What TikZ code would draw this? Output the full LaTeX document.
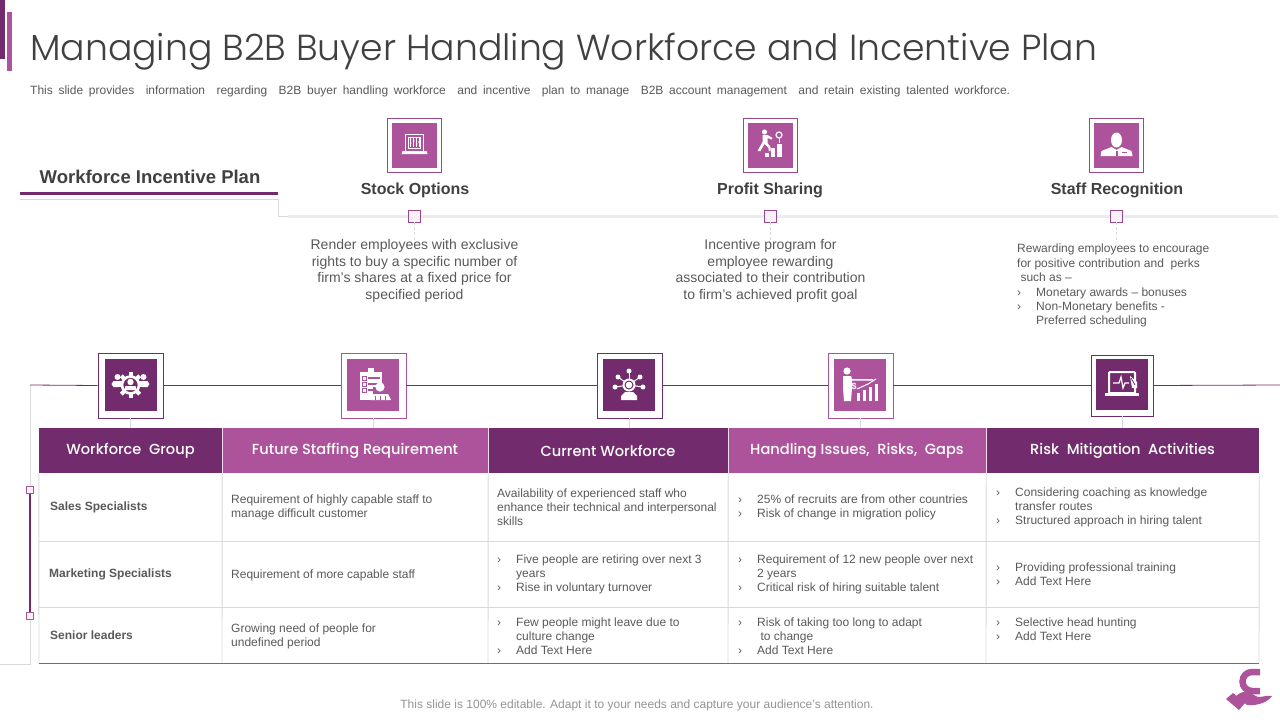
\documentclass[tikz,border=0pt]{standalone}
\usepackage{fontspec}
\setmainfont{Liberation Sans}
\newfontfamily\gothic{Poppins}[UprightFont=* Medium]
\newfontfamily\gothiclight{Poppins}[UprightFont=* Light]
\definecolor{darkp}{HTML}{722B6C}
\definecolor{lightp}{HTML}{AD539B}
\definecolor{txt}{HTML}{595959}
\definecolor{txtd}{HTML}{404040}
\definecolor{gridc}{HTML}{D9D9D9}
\definecolor{pinkf}{HTML}{F9F1F8}
\newcommand{\fs}[2]{\fontsize{#1}{#2}\selectfont}
\newcommand{\bl}[1]{\makebox[19pt][l]{›}#1}
\newcommand{\cn}[1]{\hspace*{19pt}#1}
\newcommand{\icStock}{
 \draw[white,line width=.7] (-9,-11) rectangle (9,6);
 \draw[white,line width=.6] (-6,-8) rectangle (6,3);
 \foreach \x/\y in {-4/-2,-1/-4,2/-1,4.5/-3}{\draw[white,line width=.7] (\x,-7) -- (\x,2); \fill[white] (\x,\y) circle (1);}
 \fill[white] (-12,6) -- (12,6) -- (13,9) -- (-13,9) -- cycle;
}
\newcommand{\icProfit}{
 \fill[white] (-6,-13) circle (2.6);
 \fill[white] (-8,-10) -- (-3,-10) -- (2,-7) -- (1,-5.5) -- (-3,-7) -- (-3,-2) -- (0,2) -- (0,6) -- (-2,6) -- (-2,3) -- (-6,-1) -- (-10,6) -- (-13,6) -- (-8,-3) -- cycle;
 \fill[white] (-6,8) rectangle (-2,12);
 \fill[white] (0,3) rectangle (4,12);
 \fill[white] (6,-1) rectangle (11,12);
 \draw[white,line width=1.2] (8.5,-10) circle (3);
 \draw[white,line width=1] (8.5,-7) -- (8.5,-2);
}
\newcommand{\icStaff}{
 \fill[white] (0,-5) ellipse (5.5 and 7.5);
 \fill[white] (-16,11) -- (-15,6) -- (-5,2) -- (0,5) -- (5,2) -- (15,6) -- (16,11) -- cycle;
 \fill[lightp] (-1,6) rectangle (1,11);
 \fill[lightp] (5,7) rectangle (10,8.2);
}
\newcommand{\icWork}{
 \draw[white,line width=2.6] (0,0) circle (8.5);
 \foreach \a in {0,45,...,315}{\fill[white,rotate=\a] (-2,-13) rectangle (2,-9);}
 \fill[white] (0,-3) circle (3.2);
 \fill[white] (-6,5) -- (-5,1) -- (5,1) -- (6,5) -- cycle;
 \foreach \s in {-1,1}{
  \fill[white] (\s*13,-8) circle (3);
  \fill[white] (\s*8,-1) -- (\s*9,-4) -- (\s*17,-4) -- (\s*19,-1) -- (\s*17,2) -- (\s*12,2) -- cycle;
 }
}
\newcommand{\icFuture}{
 \fill[white] (-13,-13) rectangle (9,15);
 \fill[white] (-5,-17) rectangle (1,-12);
 \foreach \y in {-7,-1,5}{
  \draw[lightp,line width=.8] (-11,\y-2) rectangle (-7,\y+2);
  \fill[lightp] (-5,\y-1) rectangle (7,\y+1);
 }
 \fill[lightp] (0,2) rectangle (20,20);
 \fill[white] (7,2) circle (4.6);
 \fill[white] (-3,15) -- (-1,9) -- (15,9) -- (18,15) -- cycle;
 \fill[lightp] (2,11) rectangle (3,15);
 \fill[lightp] (7,11) rectangle (8,15);
 \fill[lightp] (12,11) rectangle (13,15);
}
\newcommand{\icCurrent}{
 \foreach \x/\y in {0/-14,-11/-8,11/-8,-14/2,14/2}{
  \draw[white,line width=1] (0,0) -- (\x,\y);
  \fill[white] (\x,\y) circle (2.5);
 }
 \fill[white] (0,0) circle (6.5);
 \fill[lightp!0!darkp] (0,0) circle (4.5);
 \fill[white] (0,0) circle (3.3);
 \fill[white] (-8,15) -- (-8,11) -- (-4,7) -- (4,7) -- (8,11) -- (8,15) -- cycle;
}
\newcommand{\icHandling}{
 \fill[white] (-13,-14) circle (3.6);
 \fill[white] (-17,-9) -- (-9,-9) -- (-8,-6) -- (13,-6) -- (13,-4.5) -- (-8,-4.5) -- (-8,3) -- (-9,16) -- (-16,16) -- (-17,3) -- cycle;
 \fill[white] (-3,8) rectangle (0,16);
 \fill[white] (3,5) rectangle (6,16);
 \fill[white] (9,2) rectangle (12,16);
 \fill[white] (15,-1) rectangle (18,16);
 \draw[white,line width=1] (-3,4) -- (8,-1) -- (16,-6);
 \node[text=white,font=\fs{9}{9}\bfseries,inner sep=0] at (-6,1) {\$};
}
\newcommand{\icRisk}{
 \draw[white,line width=2,rounded corners=1] (-13,-13) rectangle (13,8);
 \fill[white] (-17,8) -- (17,8) -- (17,11) -- (-17,11) -- cycle;
 \draw[white,line width=1.2] (-9,-2) -- (-3,-2) -- (-1,-8) -- (1,3) -- (3,-2) -- (7,-2);
 \fill[white] (8,-9) -- (15,-3) -- (15,3) -- (10,3) -- cycle;
 \draw[darkp,line width=.8] (9,-7) -- (13,0);
}
\tikzset{
 x=1pt,y=-1pt,
 bigbox/.style={draw=darkp,fill=white,line width=.8pt,minimum size=65pt,inner sep=0},
 bigboxl/.style={draw=lightp,fill=white,line width=.8pt,minimum size=65pt,inner sep=0},
 smallbox/.style={draw=lightp!70!darkp,fill=white,line width=.8pt,minimum size=54pt,inner sep=0},
 innerd/.style={fill=darkp,minimum size=52pt,inner sep=0},
 innerl/.style={fill=lightp,minimum size=52pt,inner sep=0},
 inners/.style={fill=lightp,minimum size=45pt,inner sep=0},
 marker/.style={draw=lightp!70!darkp,fill=pinkf,line width=.8pt,minimum size=12pt,inner sep=0},
 tinymark/.style={draw=lightp,fill=pinkf,line width=.7pt,minimum size=7pt,inner sep=0},
 hdr/.style={minimum height=45pt,inner sep=0,text=white,font=\gothic\fs{14.6}{16}},
 topttl/.style={font=\fs{16}{18}\bfseries,text=txtd,inner sep=0},
 topbody/.style={font=\fs{14}{16.7},text=txt,align=center,inner sep=0},
 cell/.style={font=\fs{12}{14},text=txt,align=left,inner sep=0,anchor=west},
 rowh/.style={font=\fs{12}{14}\bfseries,text=txt,inner sep=0,anchor=west},
 gridl/.style={draw=gridc,line width=.9pt},
 drop/.style={draw=gridc,line width=.7pt},
 dashc/.style={draw=gridc,line width=.7pt,dash pattern=on 3pt off 2pt},
}
\begin{document}
\begin{tikzpicture}[x=1pt,y=-1pt]
\useasboundingbox (0,0) rectangle (1280,720);
% corner bars
\fill[darkp] (0,0) rectangle (5,59);
\fill[lightp] (7,12) rectangle (12,71);
% title
\node[anchor=west,inner sep=0,font=\gothiclight\fs{36.2}{40},text=txtd] (title) at (30,52) {Managing B2B Buyer Handling Workforce and Incentive Plan};
\node[anchor=west,inner sep=0,font=\fs{12}{14},text=txt] (subtitle) at (30,91) {\makebox[980pt][s]{This slide provides\ \ information\ \ regarding\ \ B2B buyer handling workforce\ \ and incentive\ \ plan to manage\ \ B2B account management\ \ and retain existing talented workforce.}};
% workforce incentive plan
\node[inner sep=0,font=\fs{18.5}{20}\bfseries,text=txtd] (wip) at (150,177) {Workforce Incentive Plan};
\coordinate (wl) at (20,193); \coordinate (wr) at (278,193);
\coordinate (gl) at (20,199); \coordinate (gr) at (278,199);
\coordinate (gb) at (278,216); \coordinate (ge) at (1278,216); \coordinate (gs) at (288,216);
\draw[gridc,line width=.8pt] (gl) -- (gr) -- (gb) -- (gs);
\draw[draw=gridc!50,line width=3pt] (gs) -- (ge);
\draw[darkp,line width=3pt] (wl) -- (wr);
% top columns
\foreach \n/\x/\ic in {a/414.5/\icStock,b/770.5/\icProfit,c/1116.5/\icStaff}{
 \node[smallbox] (top\n) at (\x,145) {};
 \node[inners] (topi\n) at (\x,145) {};
 \begin{scope}[shift={(\x,145)}] \ic \end{scope}
 \node[marker] (mk\n) at (\x,216) {};
 \coordinate (dd\n) at (\x,243);
 \draw[dashc] (mk\n) -- (dd\n);
}
\node[topttl] (ttla) at (415,190) {Stock Options};
\node[topttl] (ttlb) at (770,190) {Profit Sharing};
\node[topttl] (ttlc) at (1117,190) {Staff Recognition};
\node[topbody] (bodya) at (414.5,271) {Render employees with exclusive\\rights to buy a specific number of\\firm’s shares at a fixed price for\\specified period};
\node[topbody] (bodyb) at (770.5,271) {Incentive program for\\employee rewarding\\associated to their contribution\\to firm’s achieved profit goal};
\node[anchor=north west,align=left,inner sep=0,font=\fs{12}{14.4},text=txt] (bodyc) at (1017,244) {Rewarding employees to encourage\\for positive contribution and\ \ perks\\\ such as –\\\bl{Monetary awards – bonuses}\\\bl{Non-Monetary benefits -}\\\cn{Preferred scheduling}};
% left rail
\coordinate (tl0) at (30,385); \coordinate (tl9) at (1280,385);
\coordinate (rb) at (30,664); \coordinate (re) at (0,664);
\draw[gridc,line width=.7pt] (tl0) -- (rb) -- (re);
\node[tinymark] (ra) at (30,490) {};
\node[tinymark] (rz) at (30,616) {};
\draw[darkp,line width=1.8pt] (ra) -- (rz);
% icon boxes
\node[bigbox] (b1) at (130.5,385.5) {}; \node[innerd] at (130.5,385) {};
\node[bigboxl] (b2) at (373.5,385.5) {}; \node[innerl] at (373,385) {};
\node[bigbox] (b3) at (629.5,385.5) {}; \node[innerd] at (629,385) {};
\node[bigboxl] (b4) at (860.5,385.5) {}; \node[innerl] at (860,385) {};
\node[bigbox,minimum width=62pt,minimum height=61pt] (b5) at (1122,385.5) {}; \node[innerd,minimum height=51pt] at (1122,384.5) {};
\begin{scope}[shift={(130.5,385)}] \icWork \end{scope}
\begin{scope}[shift={(373,385)}] \icFuture \end{scope}
\begin{scope}[shift={(629,385)}] \icCurrent \end{scope}
\begin{scope}[shift={(860,385)}] \icHandling \end{scope}
\begin{scope}[shift={(1122,385)}] \icRisk \end{scope}
\draw[darkp,line width=.8pt] (tl0) -- (b1.west);
\draw[darkp,line width=.8pt] (b1.east) -- (b2.west);
\draw[darkp,line width=.8pt] (b2.east) -- (b3.west);
\draw[darkp,line width=.8pt] (b3.east) -- (b4.west);
\draw[darkp,line width=.8pt] (b4.east) -- (b5.west);
\draw[darkp,line width=.8pt] (b5.east) -- (tl9);
% table header
\node[hdr,fill=darkp,minimum width=183pt] (h1) at (130.5,450.5) {Workforce\ \ Group};
\node[hdr,fill=lightp,minimum width=266pt] (h2) at (355,450.5) {Future Staffing Requirement};
\node[hdr,fill=darkp,minimum width=240pt] (h3) at (608,450.5) {Current Workforce};
\node[hdr,fill=lightp,minimum width=258pt] (h4) at (857,450.5) {Handling Issues,\ \ Risks,\ \ Gaps};
\node[hdr,fill=darkp,minimum width=273pt] (h5) at (1122.5,450.5) {Risk\ \ Mitigation\ \ Activities};
\foreach \a in {h1,h2,h3,h4}{\draw[white!80!lightp,line width=.8pt] (\a.north east) -- (\a.south east);}
\foreach \n/\x in {1/130.5,2/373.5,3/629.5,4/860.5,5/1122}{\coordinate (hh\n) at (\x,428); \draw[drop] (b\n) -- (hh\n);}
% grid
\foreach \y in {541,607}{\coordinate (la) at (39,\y); \coordinate (lb) at (1259,\y); \draw[gridl] (la) -- (lb);}
\foreach \x/\a in {39/h1.south west,222/h1.south east,488/h2.south east,728/h3.south east,986/h4.south east,1259/h5.south east}{\coordinate (vb) at (\x,663); \draw[gridl] (\a) -- (vb);}
\coordinate (bl) at (39,663.5); \coordinate (br) at (1259,663.5);
\draw[draw=lightp!85!darkp,line width=1.5pt] (bl) -- (br);
% rows
\node[rowh] (r1) at (50,507) {Sales Specialists};
\node[rowh] (r2) at (49,574) {Marketing Specialists};
\node[rowh] (r3) at (50,635) {Senior leaders};
\node[cell] (c12) at (231,507) {Requirement of highly capable staff to\\manage difficult customer};
\node[cell] (c22) at (231,575) {Requirement of more capable staff};
\node[cell] (c32) at (231,636) {Growing need of people for\\undefined period};
\node[cell] (c13) at (497,507) {Availability of experienced staff who\\enhance their technical and interpersonal\\skills};
\node[cell] (c23) at (497,574) {\bl{Five people are retiring over next 3}\\\cn{years}\\\bl{Rise in voluntary turnover}};
\node[cell] (c33) at (497,636) {\bl{Few people might leave due to}\\\cn{culture change}\\\bl{Add Text Here}};
\node[cell] (c14) at (738,507) {\bl{25\% of recruits are from other countries}\\\bl{Risk of change in migration policy}};
\node[cell] (c24) at (738,574) {\bl{Requirement of 12 new people over next}\\\cn{2 years}\\\bl{Critical risk of hiring suitable talent}};
\node[cell] (c34) at (738,636) {\bl{Risk of taking too long to adapt}\\\cn{\ to change}\\\bl{Add Text Here}};
\node[cell] (c15) at (996,507) {\bl{Considering coaching as knowledge}\\\cn{transfer routes}\\\bl{Structured approach in hiring talent}};
\node[cell] (c25) at (996,574) {\bl{Providing professional training}\\\bl{Add Text Here}};
\node[cell] (c35) at (996,629) {\bl{Selective head hunting}\\\bl{Add Text Here}};
% footer
\node[inner sep=0,font=\fs{12}{14},text=gray!85] (foot) at (637,705) {This slide is 100\% editable. Adapt it to your needs and capture your audience’s attention.};
% logo
\draw[lightp,line width=6.5pt] (1260,672) -- (1252,672) arc[start angle=-90,end angle=-270,radius=9.5,y=-1pt] -- (1260,691);
\fill[lightp] (1226,699) -- (1233,693) -- (1245,703) -- (1239,710) -- cycle;
\fill[lightp] (1235,697) .. controls (1242,690) and (1248,691) .. (1254,695) -- (1258,697) .. controls (1263,697) and (1268,695) .. (1272,696) .. controls (1268,702) and (1258,706) .. (1247,705) -- (1243,702) -- cycle;
\end{tikzpicture}
\end{document}
